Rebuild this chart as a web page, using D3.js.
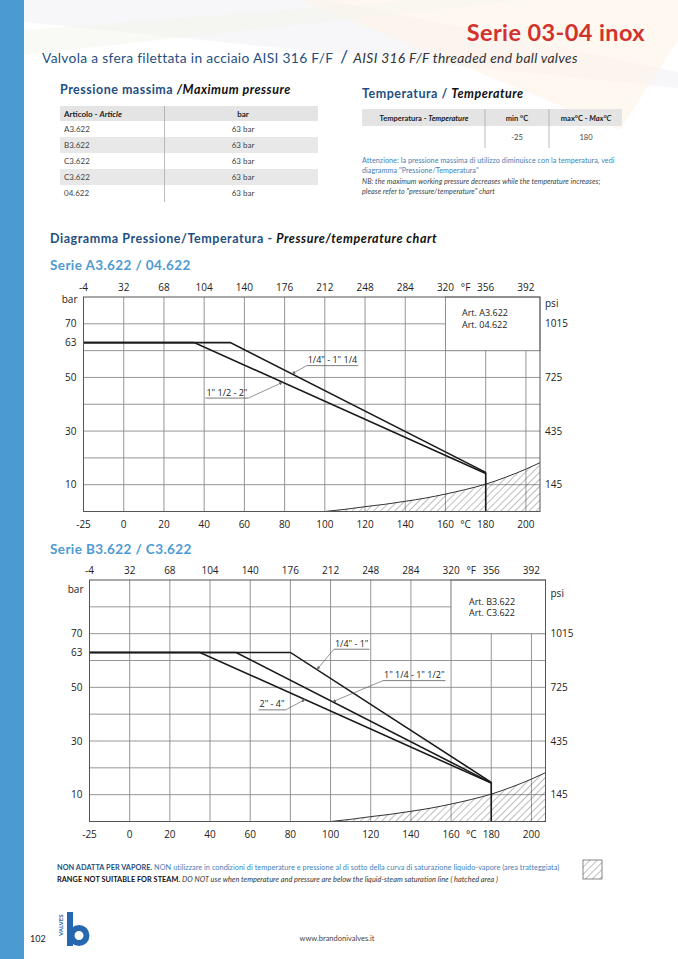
<!DOCTYPE html>
<html>
<head>
<meta charset="utf-8">
<script src="https://cdn.jsdelivr.net/npm/d3@7"></script>
<style>
  body { margin: 0; background: #fff; }
  svg { display: block; }
</style>
</head>
<body>
<svg id="page" width="678" height="959"></svg>
<script>
// ---- data ----
const celsiusTicks = [-20, 0, 20, 40, 60, 80, 100, 120, 140, 160, 180, 200];
const celsiusLabels = ['-25', '0', '20', '40', '60', '80', '100', '120', '140', '160', '180', '200'];
const fahrenheitLabels = ['-4', '32', '68', '104', '140', '176', '212', '248', '284', '320', '356', '392'];
const barTicks = [70, 63, 50, 30, 10];
const psiTicks = [70, 50, 30, 10];
const psiLabels = ['1015', '725', '435', '145'];

// saturation line (°C, bar)
const saturation = [[100, 0], [110, 0.8], [120, 1.8], [130, 2.7], [140, 3.8], [150, 5.0],
  [160, 6.5], [170, 8.2], [180, 10.2], [190, 12.8], [200, 15.8], [207, 18.2]];

const seriesA = [
  { name: '1/4" - 1" 1/4', points: [[-20, 63], [53, 63], [180, 14.6]] },
  { name: '1" 1/2 - 2"', points: [[-20, 63], [35, 63], [180, 14.2]] }
];
const seriesB = [
  { name: '1/4" - 1"', points: [[-20, 63], [80, 63], [180, 14.6]] },
  { name: '1" 1/4 - 1" 1/2"', points: [[-20, 63], [53, 63], [180, 14.4]] },
  { name: '2" - 4"', points: [[-20, 63], [35, 63], [180, 14.3]] }
];

const pressureRows = ['A3.622', 'B3.622', 'C3.622', 'C3.622', '04.622'];
const pressureValues = ['63 bar', '63 bar', '63 bar', '63 bar', '63 bar'];
const tempMin = '-25';
const tempMax = '180';

// ---- page ----
const svg = d3.select('#page');
const FONT = 'Lato, "Open Sans", sans-serif';
const CHART_FONT = '"Open Sans", sans-serif';
const DARK_BLUE = '#1f4f82';
const LIGHT_BLUE = '#4d9ad3';

const defs = svg.append('defs');
defs.append('pattern')
  .attr('id', 'hatch')
  .attr('patternUnits', 'userSpaceOnUse')
  .attr('width', 5).attr('height', 5)
  .attr('patternTransform', 'rotate(45)')
  .append('line')
  .attr('x1', 0).attr('y1', 0).attr('x2', 0).attr('y2', 5)
  .attr('stroke', '#444').attr('stroke-width', 0.7);
defs.append('marker')
  .attr('id', 'arrow')
  .attr('viewBox', '0 0 6 6')
  .attr('refX', 6).attr('refY', 3)
  .attr('markerWidth', 5).attr('markerHeight', 5)
  .attr('orient', 'auto')
  .append('path')
  .attr('d', 'M0,0 L6,3 L0,6 Z')
  .attr('fill', '#666');

// faint decorative background at the top
const deco = svg.append('g');
deco.append('path').attr('d', 'M24,0 L330,0 L678,72 L678,88 L24,22 Z').attr('fill', '#f2f0f5').attr('opacity', 0.6);
deco.append('path').attr('d', 'M300,0 L678,0 L678,40 L620,130 Z').attr('fill', '#fdf3e8').attr('opacity', 0.6);
deco.append('path').attr('d', 'M24,30 L420,0 L520,0 L24,55 Z').attr('fill', '#f4f5ec').attr('opacity', 0.5);

// left blue band
svg.append('rect').attr('x', 0).attr('y', 0).attr('width', 24).attr('height', 959).attr('fill', '#4b9bd0');

// title
svg.append('text')
  .attr('x', 645).attr('y', 41)
  .attr('text-anchor', 'end')
  .attr('font-family', FONT).attr('font-weight', 700).attr('font-size', 23.5)
  .attr('letter-spacing', 0.4)
  .attr('fill', '#d2322d')
  .text('Serie 03-04 inox');

const sub = svg.append('text')
  .attr('x', 42).attr('y', 63)
  .attr('font-family', FONT).attr('font-size', 13.8).attr('letter-spacing', 0.3);
sub.append('tspan').attr('fill', DARK_BLUE).text('Valvola a sfera filettata in acciaio AISI 316 F/F ');
sub.append('tspan').attr('fill', DARK_BLUE).attr('font-size', 18).attr('dx', 3).text('/');
sub.append('tspan').attr('fill', '#333').attr('font-style', 'italic').attr('dx', 5).text('AISI 316 F/F threaded end ball valves');

// ---- max pressure table ----
const h1 = svg.append('text').attr('x', 60).attr('y', 94)
  .attr('font-family', FONT).attr('font-weight', 700).attr('font-size', 12.5).attr('letter-spacing', 0.5);
h1.append('tspan').attr('fill', DARK_BLUE).text('Pressione massima ');
h1.append('tspan').attr('fill', '#111').attr('font-style', 'italic').text('/Maximum pressure');

const tbl = svg.append('g').attr('font-family', FONT).attr('font-size', 8);
const rowH = 16;
const rowTop = d3.scaleLinear().domain([0, 1]).range([106, 106 + rowH]);
tbl.append('rect').attr('x', 60).attr('y', rowTop(0)).attr('width', 258).attr('height', 15).attr('fill', '#e4e4e4');
pressureRows.forEach((r, i) => {
  const y0 = rowTop(i + 1) - 1;
  if (i % 2 === 1) {
    tbl.append('rect').attr('x', 60).attr('y', y0).attr('width', 258).attr('height', rowH).attr('fill', '#e8e8e8');
  }
  tbl.append('text').attr('x', 64).attr('y', y0 + 11).attr('fill', '#444').text(r);
  tbl.append('text').attr('x', 243).attr('y', y0 + 11).attr('text-anchor', 'middle').attr('fill', '#444').text(pressureValues[i]);
});
tbl.append('line').attr('x1', 164.5).attr('x2', 164.5).attr('y1', 106).attr('y2', 202).attr('stroke', '#aaa').attr('stroke-width', 0.8);
const th = tbl.append('text').attr('x', 64).attr('y', 116.5).attr('font-weight', 700).attr('fill', '#222');
th.append('tspan').text('Articolo - ');
th.append('tspan').attr('font-style', 'italic').text('Article');
tbl.append('text').attr('x', 243).attr('y', 116.5).attr('text-anchor', 'middle').attr('font-weight', 700).attr('fill', '#222').text('bar');

// ---- temperature table ----
const h2 = svg.append('text').attr('x', 362).attr('y', 98)
  .attr('font-family', FONT).attr('font-weight', 700).attr('font-size', 12.5).attr('letter-spacing', 0.5);
h2.append('tspan').attr('fill', DARK_BLUE).text('Temperatura / ');
h2.append('tspan').attr('fill', '#111').attr('font-style', 'italic').text('Temperature');

const tt = svg.append('g').attr('font-family', FONT).attr('font-size', 7.5);
tt.append('rect').attr('x', 362).attr('y', 109).attr('width', 260).attr('height', 17).attr('fill', '#e4e4e4');
[485, 549].forEach(x => tt.append('line').attr('x1', x).attr('x2', x).attr('y1', 109).attr('y2', 148).attr('stroke', '#aaa').attr('stroke-width', 0.8));
const tth = tt.append('text').attr('x', 424).attr('y', 120.5).attr('text-anchor', 'middle').attr('font-weight', 700).attr('fill', '#222');
tth.append('tspan').text('Temperatura - ');
tth.append('tspan').attr('font-style', 'italic').text('Temperature');
tt.append('text').attr('x', 517).attr('y', 120.5).attr('text-anchor', 'middle').attr('font-weight', 700).attr('fill', '#222').text('min °C');
const ttm = tt.append('text').attr('x', 586).attr('y', 120.5).attr('text-anchor', 'middle').attr('font-weight', 700).attr('fill', '#222');
ttm.append('tspan').text('max°C - ');
ttm.append('tspan').attr('font-style', 'italic').text('Max°C');
tt.append('text').attr('x', 517).attr('y', 139.5).attr('text-anchor', 'middle').attr('fill', '#444').text(tempMin);
tt.append('text').attr('x', 586).attr('y', 139.5).attr('text-anchor', 'middle').attr('fill', '#444').text(tempMax);

const notes = svg.append('g').attr('font-family', FONT).attr('font-size', 7.2).attr('letter-spacing', 0.05);
notes.append('text').attr('x', 362).attr('y', 163).attr('fill', '#3f7fb7')
  .text('Attenzione: la pressione massima di utilizzo diminuisce con la temperatura, vedi');
notes.append('text').attr('x', 362).attr('y', 172.5).attr('fill', '#3f7fb7')
  .text('diagramma "Pressione/Temperatura"');
notes.append('text').attr('x', 362).attr('y', 183.5).attr('fill', '#444').attr('font-style', 'italic')
  .text('NB: the maximum working pressure decreases while the temperature increases;');
notes.append('text').attr('x', 362).attr('y', 193.5).attr('fill', '#444').attr('font-style', 'italic')
  .text('please refer to "pressure/temperature" chart');

// ---- chart section headings ----
const h3 = svg.append('text').attr('x', 50).attr('y', 242.5)
  .attr('font-family', FONT).attr('font-weight', 700).attr('font-size', 12.5).attr('letter-spacing', 0.55);
h3.append('tspan').attr('fill', DARK_BLUE).text('Diagramma Pressione/Temperatura - ');
h3.append('tspan').attr('fill', '#111').attr('font-style', 'italic').text('Pressure/temperature chart');

svg.append('text').attr('x', 50).attr('y', 270)
  .attr('font-family', FONT).attr('font-weight', 700).attr('font-size', 13.5).attr('letter-spacing', 0.4).attr('fill', LIGHT_BLUE)
  .text('Serie A3.622 / 04.622');
svg.append('text').attr('x', 50).attr('y', 554)
  .attr('font-family', FONT).attr('font-weight', 700).attr('font-size', 13.5).attr('letter-spacing', 0.4).attr('fill', LIGHT_BLUE)
  .text('Serie B3.622 / C3.622');

// ---- chart drawing ----
function valueAt(points, t) {
  for (let i = 1; i < points.length; i++) {
    const [x0, y0] = points[i - 1], [x1, y1] = points[i];
    if (t >= x0 && t <= x1) return y0 + (y1 - y0) * (t - x0) / (x1 - x0);
  }
  return points[points.length - 1][1];
}

function drawChart(opt) {
  const x = d3.scaleLinear().domain([-20, 207]).range([opt.left, opt.right]);
  const y = d3.scaleLinear().domain([0, opt.yMax]).range([opt.bottom, opt.top]);
  const g = svg.append('g').attr('font-family', CHART_FONT).attr('font-size', 10).attr('fill', '#222');

  // grid
  const grid = g.append('g').attr('stroke', '#8a8a8a').attr('stroke-width', 0.9);
  grid.selectAll('line.v').data(celsiusTicks.slice(1)).join('line')
    .attr('x1', d => x(d)).attr('x2', d => x(d))
    .attr('y1', opt.top).attr('y2', opt.bottom);
  grid.selectAll('line.h').data(d3.range(10, opt.yMax, 10)).join('line')
    .attr('x1', opt.left).attr('x2', opt.right)
    .attr('y1', d => y(d)).attr('y2', d => y(d));

  // article box in the top right corner
  g.append('rect')
    .attr('x', x(160)).attr('y', opt.top)
    .attr('width', opt.right - x(160)).attr('height', y(opt.boxFloor) - opt.top)
    .attr('fill', '#fff').attr('stroke', '#8a8a8a').attr('stroke-width', 0.9);
  opt.art.forEach((t, i) => {
    g.append('text').attr('x', opt.artX).attr('y', opt.artY + i * 11.5)
      .attr('font-size', 9).attr('fill', '#222').text(t);
  });

  // hatched steam area
  const area = d3.area().x(d => x(d[0])).y0(y(0)).y1(d => y(d[1])).curve(d3.curveMonotoneX);
  g.append('path').datum(saturation).attr('d', area).attr('fill', 'url(#hatch)');
  const line = d3.line().x(d => x(d[0])).y(d => y(d[1]));
  g.append('path').datum(saturation)
    .attr('d', line.curve(d3.curveMonotoneX))
    .attr('fill', 'none').attr('stroke', '#333').attr('stroke-width', 1);

  // pressure curves
  const pline = d3.line().x(d => x(d[0])).y(d => y(d[1]));
  g.selectAll('path.curve').data(opt.series).join('path')
    .attr('class', 'curve')
    .attr('d', d => pline(d.points))
    .attr('fill', 'none').attr('stroke', '#1a1a1a').attr('stroke-width', 1.6);
  const ends = opt.series.map(s => s.points[s.points.length - 1]);
  const endTemp = ends[0][0];
  g.append('line')
    .attr('x1', x(endTemp)).attr('x2', x(endTemp))
    .attr('y1', y(d3.max(ends, d => d[1]))).attr('y2', y(0))
    .attr('stroke', '#1a1a1a').attr('stroke-width', 1.6);

  // border
  g.append('rect')
    .attr('x', opt.left).attr('y', opt.top)
    .attr('width', opt.right - opt.left).attr('height', opt.bottom - opt.top)
    .attr('fill', 'none').attr('stroke', '#555').attr('stroke-width', 1);

  // bottom °C labels
  g.selectAll('text.c').data(celsiusTicks).join('text')
    .attr('x', d => x(d)).attr('y', opt.bottom + 16)
    .attr('text-anchor', 'middle').text((d, i) => celsiusLabels[i]);
  g.append('text').attr('x', x(170)).attr('y', opt.bottom + 16).attr('text-anchor', 'middle').text('°C');
  // top °F labels
  g.selectAll('text.f').data(celsiusTicks).join('text')
    .attr('x', d => x(d)).attr('y', opt.top - 6)
    .attr('text-anchor', 'middle').text((d, i) => fahrenheitLabels[i]);
  g.append('text').attr('x', x(170)).attr('y', opt.top - 6).attr('text-anchor', 'middle').text('°F');

  // bar / psi labels
  g.selectAll('text.b').data(barTicks).join('text')
    .attr('x', opt.left - 7).attr('y', d => y(d) + 3.6)
    .attr('text-anchor', 'end').text(d => d);
  g.append('text').attr('x', opt.left - 6).attr('y', opt.barLabelY).attr('text-anchor', 'end').text('bar');
  g.selectAll('text.p').data(psiTicks).join('text')
    .attr('x', opt.right + 5).attr('y', d => y(d) + 3.6)
    .text((d, i) => psiLabels[i]);
  g.append('text').attr('x', opt.right + 5).attr('y', opt.barLabelY + 4).text('psi');

  // size labels with leader lines
  opt.notes.forEach(n => {
    const s = opt.series[n.series];
    const ux = x(n.at[0]), uy = y(n.at[1]);
    const txt = g.append('text')
      .attr('x', ux).attr('y', uy - 2.5)
      .attr('text-anchor', n.anchor)
      .attr('font-size', 9).attr('fill', '#222')
      .text(s.name);
    const w = txt.node().getComputedTextLength();
    const x0 = n.anchor === 'end' ? ux - w : ux;
    g.append('line').attr('x1', x0 - 1).attr('x2', x0 + w + 1).attr('y1', uy).attr('y2', uy)
      .attr('stroke', '#444').attr('stroke-width', 0.7);
    g.append('line')
      .attr('x1', n.anchor === 'end' ? x0 + w + 1 : x0 - 1).attr('y1', uy)
      .attr('x2', x(n.target)).attr('y2', y(valueAt(s.points, n.target)))
      .attr('stroke', '#666').attr('stroke-width', 0.7)
      .attr('marker-end', 'url(#arrow)');
  });
}

drawChart({
  left: 83.5, right: 540, top: 297, bottom: 511.5, yMax: 80, boxFloor: 60,
  series: seriesA,
  art: ['Art. A3.622', 'Art. 04.622'], artX: 462, artY: 316,
  barLabelY: 303,
  notes: [
    { series: 0, anchor: 'start', at: [91.5, 54.4], target: 83.6 },
    { series: 1, anchor: 'end', at: [61.5, 42.3], target: 79 }
  ]
});

drawChart({
  left: 89.5, right: 545.5, top: 580, bottom: 821.5, yMax: 90, boxFloor: 70,
  series: seriesB,
  art: ['Art. B3.622', 'Art. C3.622'], artX: 469, artY: 604.5,
  barLabelY: 592.5,
  notes: [
    { series: 0, anchor: 'start', at: [102.2, 64.2], target: 93.2 },
    { series: 1, anchor: 'start', at: [126.6, 52.5], target: 101 },
    { series: 2, anchor: 'end', at: [77.1, 41.6], target: 87.3 }
  ]
});

// ---- footer ----
const foot = svg.append('g').attr('font-family', FONT).attr('font-size', 7.3).attr('letter-spacing', 0.05);
const f1 = foot.append('text').attr('x', 57).attr('y', 870);
f1.append('tspan').attr('font-weight', 700).attr('fill', DARK_BLUE).text('NON ADATTA PER VAPORE. ');
f1.append('tspan').attr('fill', '#3f7fb7').text('NON utilizzare in condizioni di temperature e pressione al di sotto della curva di saturazione liquido-vapore (area tratteggiata)');
const f2 = foot.append('text').attr('x', 57).attr('y', 882);
f2.append('tspan').attr('font-weight', 700).attr('fill', '#111').text('RANGE NOT SUITABLE FOR STEAM. ');
f2.append('tspan').attr('font-style', 'italic').attr('fill', '#333').text('DO NOT use when temperature and pressure are below the liquid-steam saturation line ( hatched area )');

foot.append('rect').attr('x', 583).attr('y', 860).attr('width', 19).attr('height', 19)
  .attr('fill', 'url(#hatch)').attr('stroke', '#555').attr('stroke-width', 0.7);

svg.append('text').attr('x', 30).attr('y', 942).attr('font-family', FONT).attr('font-size', 9).attr('fill', '#222').text('102');
svg.append('text').attr('x', 337).attr('y', 941).attr('text-anchor', 'middle')
  .attr('font-family', FONT).attr('font-size', 7.5).attr('fill', '#444').text('www.brandonivalves.it');

// logo
const logo = svg.append('g').attr('fill', '#2568b0');
logo.append('text').attr('transform', 'translate(63,936) rotate(-90)')
  .attr('font-family', FONT).attr('font-weight', 700).attr('font-size', 6).text('VALVES');
logo.append('rect').attr('x', 67).attr('y', 912).attr('width', 6).attr('height', 34);
logo.append('circle').attr('cx', 79).attr('cy', 935.5).attr('r', 7.5)
  .attr('fill', 'none').attr('stroke', '#2568b0').attr('stroke-width', 6);
</script>
</body>
</html>
